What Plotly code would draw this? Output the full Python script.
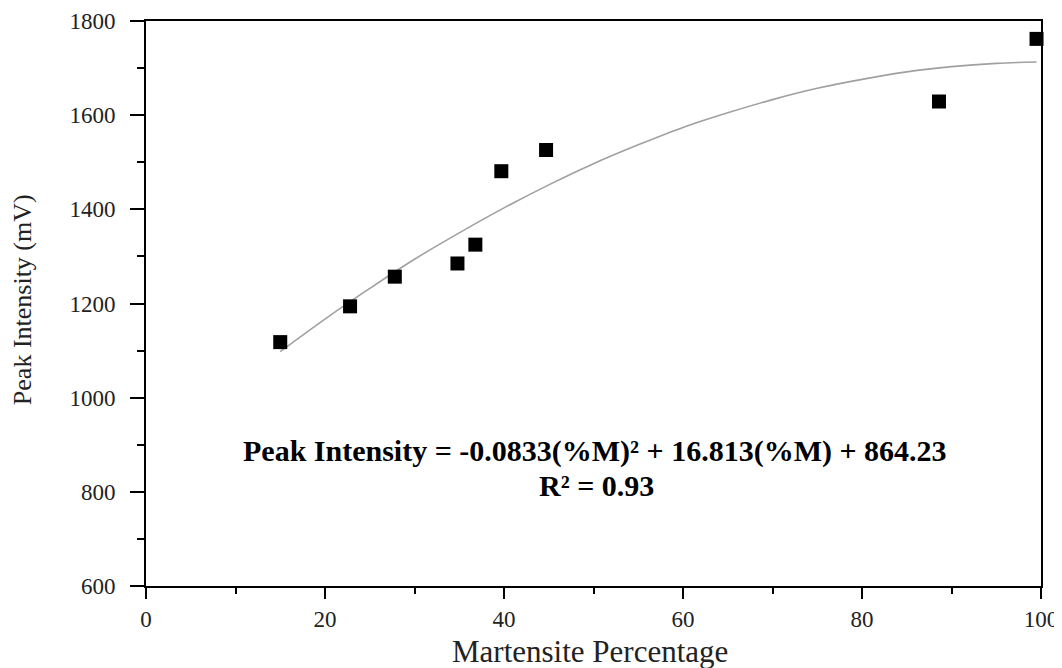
import plotly.graph_objects as go

martensite_pct = [15.0, 22.8, 27.8, 34.8, 36.8, 39.7, 44.7, 88.6, 99.5]
peak_intensity = [1118, 1194, 1257, 1285, 1325, 1481, 1526, 1629, 1762]

# Fitted trend curve points
fit_x = [15, 20, 25, 30, 35, 40, 45, 50, 55, 60, 65, 70, 75, 80, 85, 90, 95, 99.5]
fit_y = [1098, 1167, 1232, 1294, 1350, 1403, 1452, 1497, 1537, 1574, 1605, 1633, 1657, 1676, 1692, 1703, 1710, 1713]

x_ticks = [0, 20, 40, 60, 80, 100]
y_ticks = [600, 800, 1000, 1200, 1400, 1600, 1800]

FONT = "Liberation Serif, Times New Roman, serif"

fig = go.Figure()
fig.add_trace(go.Scatter(
    x=fit_x, y=fit_y, mode="lines", line=dict(color="#a0a0a0", width=1.6, shape="spline"),
    showlegend=False, hoverinfo="skip"))
fig.add_trace(go.Scatter(
    x=martensite_pct, y=peak_intensity, mode="markers",
    marker=dict(symbol="square", size=14, color="black"),
    cliponaxis=False, showlegend=False))

axis_common = dict(
    showline=True, linecolor="black", linewidth=2, mirror=True,
    showgrid=False, zeroline=False, ticks="outside", tickcolor="black", tickwidth=2,
    tickfont=dict(family=FONT, size=23, color="#222"),
    automargin=False,
)

fig.update_xaxes(**axis_common, range=[0, 100], tickvals=x_ticks, ticklen=11,
                 ticklabelstandoff=0,
                 minor=dict(dtick=10, ticks="outside", ticklen=6, tickwidth=2, tickcolor="black"))
fig.update_yaxes(**axis_common, range=[600, 1800], tickvals=y_ticks, ticklen=14,
                 ticklabelstandoff=10,
                 minor=dict(dtick=100, ticks="outside", ticklen=7, tickwidth=2, tickcolor="black"))

fig.update_layout(
    width=1054, height=660,
    margin=dict(l=138, r=21, t=13, b=82),
    paper_bgcolor="white", plot_bgcolor="white",
    font=dict(family=FONT, color="black"),
    annotations=[
        dict(text="Peak Intensity (mV)", xref="paper", yref="paper", x=-0.1385, y=0.506,
             textangle=-90, showarrow=False, font=dict(family=FONT, size=26, color="#222"),
             xanchor="center", yanchor="middle"),
        dict(text="Martensite Percentage", xref="paper", yref="paper", x=0.496, y=-0.116,
             showarrow=False, font=dict(family=FONT, size=31, color="#222"),
             xanchor="center", yanchor="middle"),
        dict(text="<b>Peak Intensity = -0.0833(%M)² + 16.813(%M) + 864.23</b>",
             xref="paper", yref="paper", x=0.5017, y=0.2384, showarrow=False,
             font=dict(family=FONT, size=30, color="black"),
             xanchor="center", yanchor="middle"),
        dict(text="<b>R² = 0.93</b>",
             xref="paper", yref="paper", x=0.503, y=0.1779, showarrow=False,
             font=dict(family=FONT, size=30, color="black"),
             xanchor="center", yanchor="middle"),
    ],
)

fig.write_html("out.html")
